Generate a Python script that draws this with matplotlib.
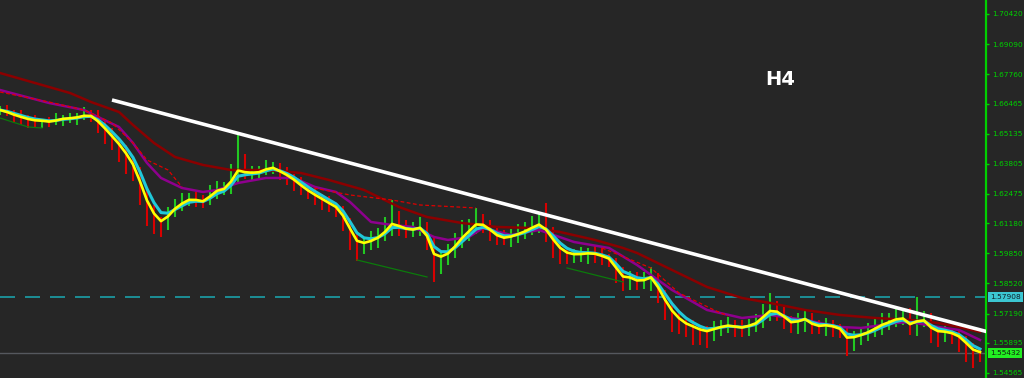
import matplotlib
matplotlib.use("Agg")
import matplotlib.pyplot as plt
import matplotlib.transforms as mtransforms
import numpy as np
import pandas as pd

# H4 closes, one value per bar
closes = [
    1.66180, 1.66048, 1.65915, 1.65827, 1.65739, 1.65695, 1.65695, 1.65650, 1.65739, 1.65827,
    1.65827, 1.65871, 1.65960, 1.65915, 1.65562, 1.65209, 1.64856, 1.64502, 1.64061, 1.63531,
    1.62648, 1.61764, 1.61323, 1.61102, 1.61588, 1.61985, 1.62162, 1.62294, 1.62206, 1.62118,
    1.62471, 1.62736, 1.62736, 1.63178, 1.63752, 1.63398, 1.63398, 1.63443, 1.63619, 1.63663,
    1.63398, 1.63222, 1.63001, 1.62736, 1.62515, 1.62339, 1.62162, 1.61985, 1.61809, 1.61323,
    1.60660, 1.60131, 1.60263, 1.60440, 1.60616, 1.60925, 1.61323, 1.61014, 1.60881, 1.60881,
    1.61014, 1.60440, 1.59424, 1.59645, 1.59910, 1.60307, 1.60705, 1.60970, 1.61279, 1.61102,
    1.60793, 1.60528, 1.60484, 1.60616, 1.60749, 1.60881, 1.61058, 1.61190, 1.60793, 1.60263,
    1.59910, 1.59777, 1.59777, 1.59821, 1.59866, 1.59821, 1.59689, 1.59556, 1.59027, 1.58629,
    1.58762, 1.58585, 1.58673, 1.58850, 1.58143, 1.57525, 1.57083, 1.56819, 1.56642, 1.56554,
    1.56421, 1.56377, 1.56554, 1.56642, 1.56686, 1.56598, 1.56554, 1.56686, 1.56819, 1.57172,
    1.57437, 1.57260, 1.56951, 1.56686, 1.56863, 1.56995, 1.56642, 1.56598, 1.56686, 1.56598,
    1.56465, 1.55935, 1.56156, 1.56289, 1.56421, 1.56598, 1.56774, 1.56863, 1.56995, 1.56995,
    1.56598, 1.56907, 1.56907, 1.56421, 1.56333, 1.56377, 1.56289, 1.56112, 1.55759, 1.55450,
    1.55432,
]

# wicks above / below the body, in pips
wick_hi = [
    18, 22, 12, 25, 15, 20, 10, 18, 30, 14, 22, 16, 35, 20,
    25, 12, 18, 10, 15, 8, 12, 10, 20, 15,
    30, 25, 35, 20, 28, 22, 40, 30, 25, 60,
    140, 50, 30, 25, 35, 20, 18, 25, 15, 20, 12, 18, 15, 22, 10,
    15, 10, 12, 30, 40, 35, 55, 90, 40, 30, 35, 45, 20,
    15, 25, 35, 45, 60, 40, 57, 30, 20, 25, 35, 30, 40, 35, 45, 50,
    90, 20, 15, 10, 25, 30, 20, 35, 25, 15, 10, 20, 30, 25, 35, 40,
    15, 10, 12, 18, 10, 25, 15, 20, 30, 25, 35, 20, 30, 25, 35, 45,
    65, 30, 20, 15, 35, 30, 20, 25, 30, 20, 15,
    10, 25, 30, 35, 40, 45, 35, 50, 40, 45, 100, 40,
    30, 20, 25, 15, 20, 10, 12, 15,
]
wick_lo = [
    20, 15, 25, 30, 35, 25, 30, 20, 15, 25, 20, 30, 15, 25,
    40, 55, 45, 60, 70, 50, 65, 70, 60, 55,
    20, 15, 25, 20, 30, 25, 15, 20, 30, 25,
    20, 25, 30, 20, 15, 25, 30, 35, 40, 30, 25, 35, 40, 30, 35,
    50, 65, 60, 30, 25, 35, 20, 30, 40, 35, 30, 25, 45,
    85, 50, 30, 25, 20, 30, 25, 35, 40, 30, 25, 35, 30, 25, 20, 30,
    45, 60, 55, 40, 35, 30, 45, 40, 35, 30, 50, 45, 40, 35, 30, 50,
    50, 60, 70, 55, 50, 75, 60, 70, 40, 35, 30, 45, 40, 35, 30, 25,
    30, 40, 45, 35, 40, 50, 35, 30, 40, 45, 35,
    60, 40, 35, 30, 25, 35, 30, 25, 30, 35, 40, 30,
    55, 60, 40, 45, 60, 70, 65, 40,
]

# slow moving averages (bar index, price)
purple_idx = [0, 7, 12, 14, 17, 19, 21, 23, 26, 29, 31, 34, 38, 42, 45, 48, 50, 53, 56, 59, 62,
              64, 67, 69, 73, 77, 82, 87, 91, 96, 101, 106, 110, 115, 120, 123, 128, 130, 134, 137, 140]
purple_val = [1.67064, 1.66490, 1.66180, 1.65871, 1.65430, 1.64723, 1.63840, 1.63178, 1.62736,
              1.62559, 1.62648, 1.62957, 1.63178, 1.63178, 1.62780, 1.62559, 1.62118, 1.61235,
              1.61102, 1.61014, 1.60572, 1.60440, 1.60572, 1.60970, 1.60660, 1.60881, 1.60351,
              1.60086, 1.59336, 1.58232, 1.57348, 1.56995, 1.57128, 1.56907, 1.56598, 1.56554,
              1.56774, 1.56819, 1.56598, 1.56465, 1.56024]

darkred_idx = [0, 5, 10, 13, 17, 19, 22, 25, 29, 33, 38, 43, 47, 52, 57, 61, 66, 71, 76, 80, 85,
               89, 91, 96, 101, 106, 110, 115, 120, 125, 130, 134, 137, 140]
darkred_val = [1.67814, 1.67373, 1.66931, 1.66534, 1.66092, 1.65518, 1.64723, 1.64105, 1.63752,
               1.63531, 1.63531, 1.63398, 1.63089, 1.62648, 1.61897, 1.61455, 1.61190, 1.61014,
               1.60970, 1.60793, 1.60440, 1.60086, 1.59866, 1.59115, 1.58364, 1.57878, 1.57658,
               1.57348, 1.57128, 1.56995, 1.56907, 1.56774, 1.56598, 1.56377]

# dashed red segments
dash_segments = [
    ([0, 7, 12, 16, 19, 21, 24, 26], [1.66975, 1.66534, 1.66180, 1.65606, 1.64723, 1.63972, 1.63531, 1.62780]),
    ([44, 50, 56, 60, 68], [1.62780, 1.62427, 1.62206, 1.61985, 1.61853]),
    ([86, 93, 97, 102, 104], [1.60086, 1.59203, 1.58099, 1.57348, 1.57083]),
]

# thin green lines under the lows
green_segments = [
    ([0, 4, 6], [1.65827, 1.65430, 1.65386]),
    ([51, 61], [1.59556, 1.58806]),
    ([81, 89], [1.59203, 1.58585]),
]

trend_idx = [16, 141]
trend_val = [1.66622, 1.56390]

level_line = 1.57908
last_price = 1.55432
price_ticks = [1.70420, 1.69090, 1.67760, 1.66465, 1.65135, 1.63805, 1.62475,
               1.61180, 1.59850, 1.58520, 1.57190, 1.55895, 1.54565]

bg = "#262626"
axis_green = "#00d000"

fig = plt.figure(figsize=(10.24, 3.78), dpi=100, facecolor=bg)
ax = fig.add_axes([0, 0, 986 / 1024, 1])
ax.set_facecolor(bg)

c = np.array(closes)
o = np.concatenate([[c[0]], c[:-1]])
hi = np.maximum(o, c) + np.array(wick_hi) * 0.0001
lo = np.minimum(o, c) - np.array(wick_lo) * 0.0001
idx = np.arange(len(c))
cols = np.where(c >= o, "#22c822", "#d80000")

ax.vlines(idx, lo, hi, colors=cols, linewidth=1.5, zorder=2)

# horizontal levels
ax.axhline(last_price, color="#55585e", linewidth=1, zorder=1)
ax.axhline(level_line, color="#1aa0a8", linewidth=1.2, dashes=(9, 6), zorder=1)

# moving averages
ax.plot(darkred_idx, darkred_val, color="#8b0000", linewidth=1.8, zorder=3)
ax.plot(purple_idx, purple_val, color="#8e008e", linewidth=1.8, zorder=3)
for xs, ys in dash_segments:
    ax.plot(xs, ys, color="#e00000", linewidth=0.9, dashes=(3, 2), zorder=3)
for xs, ys in green_segments:
    ax.plot(xs, ys, color="#0b7a0b", linewidth=0.9, zorder=3)

s = pd.Series(c)
ax.plot(idx, s.ewm(span=3.5, adjust=False).mean(), color="#20c8d8", linewidth=2.2, zorder=4)
ax.plot(idx, s.ewm(span=2, adjust=False).mean(), color="#ffff00", linewidth=1.9, zorder=5)

# trend line
ax.plot(trend_idx, trend_val, color="white", linewidth=2.6, solid_capstyle="butt", zorder=6)

ax.text(0.791, 0.79, "H4", transform=ax.transAxes, color="white", fontsize=14,
        fontweight="bold", ha="center", va="center")

ax.set_xlim(0, 986 / 7)
ax.set_ylim(1.54344, 1.71038)

for sp in ["top", "left", "bottom"]:
    ax.spines[sp].set_visible(False)
ax.spines["right"].set_color(axis_green)
ax.spines["right"].set_linewidth(1.6)
ax.set_xticks([])
ax.yaxis.tick_right()
ax.set_yticks(price_ticks)
ax.set_yticklabels(["%.5f" % v for v in price_ticks])
ax.tick_params(axis="y", colors=axis_green, labelcolor=axis_green, length=2.5, width=1,
               labelsize=5.3, pad=2)

trans = mtransforms.blended_transform_factory(ax.transAxes, ax.transData)
ax.text(1.004, level_line, "%.5f" % level_line, transform=trans, fontsize=5.3, color="#10202a",
        va="center", ha="left", bbox=dict(facecolor="#3cc6d2", edgecolor="none", pad=1.5), zorder=10)
ax.text(1.004, last_price, "%.5f" % last_price, transform=trans, fontsize=5.3, color="#102010",
        va="center", ha="left", bbox=dict(facecolor="#22ee22", edgecolor="none", pad=1.5), zorder=10)

fig.savefig("out.png", dpi=100, facecolor=bg)
